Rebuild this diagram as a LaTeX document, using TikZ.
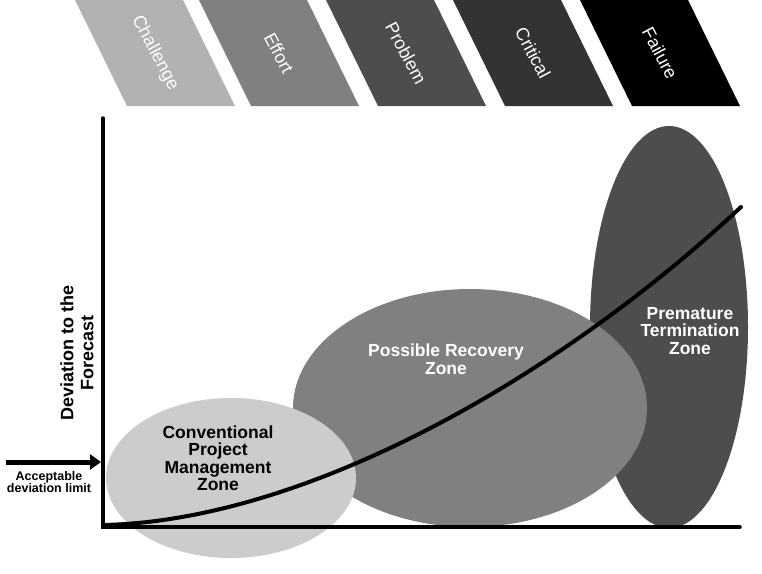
\documentclass[tikz,border=0pt]{standalone}
\usepackage{fontspec}
\setmainfont{Liberation Sans}
\usetikzlibrary{arrows.meta,shapes.geometric}
\definecolor{cChal}{HTML}{B2B2B2}
\definecolor{cEff}{HTML}{808080}
\definecolor{cProb}{HTML}{4D4D4D}
\definecolor{cCrit}{HTML}{333333}
\definecolor{cFail}{HTML}{000000}
\definecolor{zLight}{HTML}{CCCCCC}
\definecolor{zMid}{HTML}{808080}
\definecolor{zDark}{HTML}{4D4D4D}
\begin{document}
\begin{tikzpicture}[x=1pt,y=-1pt,
  bannertext/.style={text=white,font=\fontsize{18}{18}\selectfont,rotate=-62,inner sep=0pt},
  zonetext/.style={font=\bfseries\fontsize{17.5}{17.5}\selectfont,align=center,inner sep=0pt},
  zone/.style={ellipse,draw=none,inner sep=0pt},
  axisline/.style={line width=3.5pt,line cap=round}]
\useasboundingbox (0,0) rectangle (762,573);
% banners
\fill[cChal] (75,0) -- (183,0) -- (235,106) -- (127,106) -- cycle;
\node[bannertext] (tChal) at (155,53) {Challenge};
\fill[cEff] (199,0) -- (307,0) -- (359,106) -- (251,106) -- cycle;
\node[bannertext] (tEff) at (279,53) {Effort};
\fill[cProb] (326,0) -- (434,0) -- (486,106) -- (378,106) -- cycle;
\node[bannertext] (tProb) at (406,53) {Problem};
\fill[cCrit] (453,0) -- (561,0) -- (613,106) -- (505,106) -- cycle;
\node[bannertext] (tCrit) at (533,53) {Critical};
\fill[cFail] (580,0) -- (688,0) -- (740,106) -- (632,106) -- cycle;
\node[bannertext] (tFail) at (660,53) {Failure};
% zones
\node[zone,fill=zDark,minimum width=158pt,minimum height=402pt] (dark) at (669,327) {};
\node[zone,fill=zMid,minimum width=354pt,minimum height=238pt] (mid) at (470,408) {};
\node[zone,fill=zLight,minimum width=250pt,minimum height=160pt] (light) at (231,478) {};
% axes
\coordinate (origin) at (103,527);
\coordinate (ytop) at (103,118);
\coordinate (xend) at (740,527);
\draw[axisline] (ytop) -- (origin) -- (xend);
% curve
\coordinate (cstart) at (103,525);
\coordinate (cend) at (741,207);
\draw[line width=4pt,line cap=round] (cstart) .. controls (300,521) and (550,385) .. (cend);
% zone labels
\node[zonetext] (lConv) at (218,458) {Conventional\\Project\\Management\\Zone};
\node[zonetext,text=white] (lRec) at (446,359) {Possible Recovery\\Zone};
\node[zonetext,text=white] (lTerm) at (690,331) {Premature\\Termination\\Zone};
% y label
\node[font=\bfseries\fontsize{18}{20}\selectfont,align=center,rotate=90,inner sep=0pt] (ylab) at (77,353) {Deviation to the\\Forecast};
% acceptable limit arrow
\coordinate (arrstart) at (6,462);
\coordinate (arrend) at (101,462);
\draw[line width=5pt,-{Triangle[length=11pt,width=15pt]}] (arrstart) -- (arrend);
\node[font=\bfseries\fontsize{12.5}{12}\selectfont,align=center,inner sep=0pt] (acc) at (49,482) {Acceptable\\deviation limit};
\end{tikzpicture}
\end{document}
